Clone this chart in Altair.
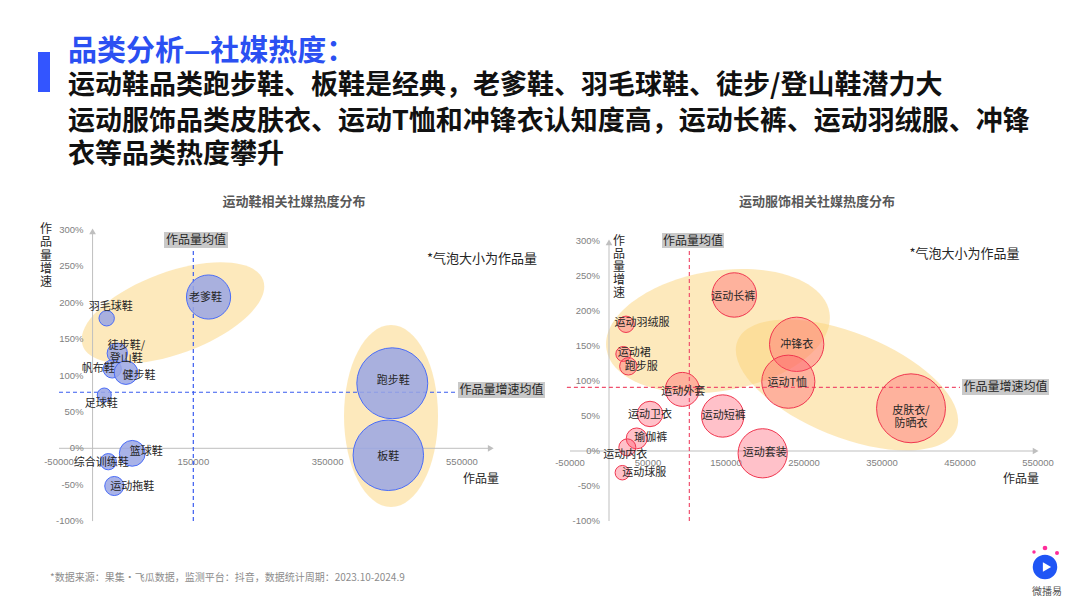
import altair as alt
import pandas as pd

OFF = 8  # page margin of the html body

# ---------------- 运动鞋 (left panel) ----------------
shoe_names = ["老爹鞋", "羽毛球鞋", "徒步鞋/登山鞋", "帆布鞋", "健步鞋", "足球鞋",
              "跑步鞋", "板鞋", "篮球鞋", "综合训练鞋", "运动拖鞋"]
shoe_labels = ["老爹鞋", "羽毛球鞋", "徒步鞋/\n登山鞋", "帆布鞋", "健步鞋", "足球鞋",
               "跑步鞋", "板鞋", "篮球鞋", "综合训练鞋", "运动拖鞋"]
shoe_volume = [172700, 21000, 36800, 29300, 49700, 17400, 446300, 440400, 59100, 23400, 32300]
shoe_growth = [207.8, 178.6, 130.5, 109.0, 104.0, 73.2, 89.3, -9.6, -6.9, -18.4, -51.8]
shoe_mean_volume = 150000
shoe_mean_growth = 77
shoe_xticks = [-50000, 150000, 350000, 550000]

# ---------------- 运动服饰 (right panel) ----------------
app_names = ["运动长裤", "运动羽绒服", "运动裙", "跑步服", "冲锋衣", "运动T恤", "运动外套",
             "运动卫衣", "运动短裤", "瑜伽裤", "运动内衣", "运动套装", "运动球服", "皮肤衣/防晒衣"]
app_labels = ["运动长裤", "运动羽绒服", "运动裙", "跑步服", "冲锋衣", "运动T恤", "运动外套",
              "运动卫衣", "运动短裤", "瑜伽裤", "运动内衣", "运动套装", "运动球服", "皮肤衣/\n防晒衣"]
app_volume = [160600, 21800, 18400, 24800, 240600, 229900, 94000, 52600, 145800, 35500,
              23500, 197000, 17100, 387200]
app_growth = [222.9, 181.0, 138.6, 121.0, 152.4, 99.0, 88.0, 52.9, 50.0, 18.0, 5.2, -3.3, -31.0, 61.0]
app_mean_volume = 103000
app_mean_growth = 91
app_xticks = [-50000, 50000, 150000, 250000, 350000, 450000, 550000]

y_ticks = [-100, -50, 0, 50, 100, 150, 200, 250, 300]

CJK = "Noto Sans CJK SC"
NUM = "Liberation Sans"
AX = "#bfbfbf"
TICK = "#7f7f7f"
LAB = "#262626"


def ellipse_path(k):
    c = 0.5523
    return (f"M-1,0C-1,{-c*k:.4f},{-c:.4f},{-k:.4f},0,{-k:.4f}"
            f"C{c:.4f},{-k:.4f},1,{-c*k:.4f},1,0"
            f"C1,{c*k:.4f},{c:.4f},{k:.4f},0,{k:.4f}"
            f"C{-c:.4f},{k:.4f},-1,{c*k:.4f},-1,0Z")


def panel(names, labels, vol, gro, mean_x, mean_y, xticks, cfg):
    xs = alt.Scale(domain=cfg["xdom"], range=[v - OFF for v in cfg["xpx"]], nice=False, zero=False)
    ys = alt.Scale(domain=[-100, 300], range=[v - OFF for v in cfg["ypx"]], nice=False, zero=False)
    ss = alt.Scale(domain=[0, cfg["sdom"]], range=[0, cfg["srange"]])

    def X(f):
        return alt.X(f + ":Q", scale=xs, axis=None)

    def Y(f):
        return alt.Y(f + ":Q", scale=ys, axis=None)

    layers = []
    # highlight ellipses
    for (cx, cy, a, b, ang) in cfg["ellipses"]:
        layers.append(
            alt.Chart(pd.DataFrame({"x": [cx], "y": [cy]})).mark_point(
                shape=ellipse_path(b / a), filled=True, color="#fbd47a", opacity=0.5,
                size=(2 * a) ** 2, angle=ang, strokeWidth=0
            ).encode(x=X("x"), y=Y("y"))
        )
    # axis lines
    layers.append(
        alt.Chart(pd.DataFrame({"x": [0], "y": [-100], "y2": [300]})).mark_rule(
            color=AX, strokeWidth=1).encode(x=X("x"), y=Y("y"), y2="y2:Q"))
    layers.append(
        alt.Chart(pd.DataFrame({"x": [cfg["xdom"][0]], "x2": [cfg["xend"]], "y": [0]})).mark_rule(
            color=AX, strokeWidth=1).encode(x=X("x"), x2="x2:Q", y=Y("y")))
    layers.append(
        alt.Chart(pd.DataFrame({"x": [0], "y": [298]})).mark_point(
            shape="triangle-up", filled=True, color=AX, size=45, opacity=1).encode(x=X("x"), y=Y("y")))
    layers.append(
        alt.Chart(pd.DataFrame({"x": [cfg["xend"]], "y": [0]})).mark_point(
            shape="triangle-right", filled=True, color=AX, size=45, opacity=1).encode(x=X("x"), y=Y("y")))
    # tick labels
    xt = pd.DataFrame({"v": xticks, "t": [str(v) for v in xticks], "z": [0] * len(xticks)})
    layers.append(
        alt.Chart(xt).mark_text(fontSize=9.5, color=TICK, dy=cfg["xlab_dy"], font=NUM).encode(
            x=X("v"), y=Y("z"), text="t:N"))
    yt = pd.DataFrame({"v": y_ticks, "t": [f"{v}%" for v in y_ticks], "z": [0] * len(y_ticks)})
    layers.append(
        alt.Chart(yt).mark_text(fontSize=9.5, color=TICK, align="right", dx=-9, font=NUM).encode(
            x=X("z"), y=Y("v"), text="t:N"))
    # mean lines
    layers.append(
        alt.Chart(pd.DataFrame({"x": [mean_x], "y": [-100], "y2": [cfg["vtop"]]})).mark_rule(
            color=cfg["dash"], strokeDash=[4, 3], strokeWidth=1.2).encode(x=X("x"), y=Y("y"), y2="y2:Q"))
    layers.append(
        alt.Chart(pd.DataFrame({"x": [cfg["hstart"]], "x2": [cfg["hend"]], "y": [mean_y]})).mark_rule(
            color=cfg["dash"], strokeDash=[4, 3], strokeWidth=1.2).encode(x=X("x"), x2="x2:Q", y=Y("y")))
    # bubbles
    df = pd.DataFrame({"name": names, "label": labels, "volume": vol, "growth": gro})
    layers.append(
        alt.Chart(df).mark_circle(
            fill=cfg["fill"], fillOpacity=cfg["fop"], stroke=cfg["stroke"], strokeWidth=1,
            strokeOpacity=1).encode(
            x=X("volume"), y=Y("growth"), size=alt.Size("volume:Q", scale=ss, legend=None)))
    # bubble labels
    for n, (dx, dy) in cfg["offsets"].items():
        layers.append(
            alt.Chart(df).transform_filter(alt.datum.name == n).mark_text(
                dx=dx, dy=dy, fontSize=11, color=LAB, lineBreak="\n", lineHeight=13, font=CJK
            ).encode(x=X("volume"), y=Y("growth"), text="label:N"))
    return alt.layer(*layers)


left_cfg = dict(
    xdom=[-50000, 600000], xpx=[59, 495.5], ypx=[521.1, 229.9],
    sdom=447000, srange=5041, xend=593000, xlab_dy=14,
    vtop=275, hstart=-50000, hend=542000, dash="#3a5cf0",
    fill="#9aa6e4", fop=0.85, stroke="#4a6cf7",
    ellipses=[(119700, 185.9, 96, 41, 340), (444400, 44.4, 91, 47, 90)],
    offsets={"老爹鞋": (-3, 1), "羽毛球鞋": (4, -11), "徒步鞋/登山鞋": (9, -7), "帆布鞋": (-14, 0),
             "健步鞋": (13, 3), "足球鞋": (-3, 9), "跑步鞋": (1, -2), "板鞋": (0, 2),
             "篮球鞋": (14, -1), "综合训练鞋": (-7, 1), "运动拖鞋": (18, 1)},
)
right_cfg = dict(
    xdom=[-50000, 550000], xpx=[570, 1038], ypx=[521, 241],
    sdom=388000, srange=4761, xend=547000, xlab_dy=12,
    vtop=290, hstart=-54000, hend=450000, dash="#f0506e",
    fill="#ff4d64", fop=0.35, stroke="#f0364f",
    ellipses=[(139700, 171.4, 113, 60, 350.6), (305100, 94.3, 118, 52, 22)],
    offsets={"运动长裤": (-1, 2), "运动羽绒服": (16, -1), "运动裙": (11, -1), "跑步服": (13, 1),
             "冲锋衣": (0, 1), "运动T恤": (-1, 1), "运动外套": (1, 3), "运动卫衣": (0, 1),
             "运动短裤": (1, 0), "瑜伽裤": (14, 0), "运动内衣": (-2, 8), "运动套装": (2, 0),
             "运动球服": (22, 0), "皮肤衣/防晒衣": (0, 3)},
)

left = panel(shoe_names, shoe_labels, shoe_volume, shoe_growth,
             shoe_mean_volume, shoe_mean_growth, shoe_xticks, left_cfg)
right = panel(app_names, app_labels, app_volume, app_growth,
              app_mean_volume, app_mean_growth, app_xticks, right_cfg)


def note(text, x, y, size=12, color=LAB, weight="normal", align="center", font=CJK, lh=None):
    kw = dict(align=align, baseline="middle", fontSize=size, color=color, fontWeight=weight,
              font=font, lineBreak="\n")
    if lh:
        kw["lineHeight"] = lh
    return alt.Chart(alt.Data(values=[{"t": text}])).mark_text(**kw).encode(
        x=alt.value(x - OFF), y=alt.value(y - OFF), text="t:N")


def box(x1, y1, x2, y2, color):
    return alt.Chart(alt.Data(values=[{"t": 1}])).mark_rect(color=color).encode(
        x=alt.value(x1 - OFF), x2=alt.value(x2 - OFF), y=alt.value(y1 - OFF), y2=alt.value(y2 - OFF))


def dot(x, y, size, color, shape="circle"):
    return alt.Chart(alt.Data(values=[{"t": 1}])).mark_point(
        shape=shape, filled=True, color=color, size=size, opacity=1).encode(
        x=alt.value(x - OFF), y=alt.value(y - OFF))


annos = [
    box(38, 52, 50, 92, "#3355ff"),
    note("品类分析—社媒热度：", 68, 52, size=29, color="#2b50f2", weight="bold", align="left"),
    note("运动鞋品类跑步鞋、板鞋是经典，老爹鞋、羽毛球鞋、徒步/登山鞋潜力大", 68, 86, size=27,
         color="#111111", weight="bold", align="left"),
    note("运动服饰品类皮肤衣、运动T恤和冲锋衣认知度高，运动长裤、运动羽绒服、冲锋", 68, 122, size=27,
         color="#111111", weight="bold", align="left"),
    note("衣等品类热度攀升", 68, 155, size=27, color="#111111", weight="bold", align="left"),
    note("运动鞋相关社媒热度分布", 294, 202, size=13, color="#595959", weight="bold"),
    note("运动服饰相关社媒热度分布", 817, 202, size=13, color="#595959", weight="bold"),
    note("*气泡大小为作品量", 482, 259, size=13),
    note("*气泡大小为作品量", 964.5, 254, size=13),
    note("作\n品\n量\n增\n速", 46, 229, size=12, lh=13.3),
    note("作\n品\n量\n增\n速", 619, 241, size=12, lh=13.0),
    note("作品量", 481, 479, size=12),
    note("作品量", 1021, 479, size=12),
    box(164, 232, 228, 248, "#c9c9c9"),
    note("作品量均值", 196, 240, size=12),
    box(662, 233, 724, 248, "#c9c9c9"),
    note("作品量均值", 693, 240.5, size=12),
    box(458, 382, 545, 398, "#c9c9c9"),
    note("作品量增速均值", 501.5, 390, size=12),
    box(962, 379, 1049, 395, "#c9c9c9"),
    note("作品量增速均值", 1005.5, 387, size=12),
    note("*数据来源：果集·飞瓜数据，监测平台：抖音，数据统计周期：2023.10-2024.9", 50, 578,
         size=10, color="#8c8c8c", align="left"),
    dot(1045, 567, 600, "#1f55f5"),
    dot(1047, 567, 90, "#ffffff", shape="triangle-right"),
    dot(1045, 548, 22, "#ff2d9a"),
    dot(1057, 553, 16, "#ff2d9a"),
    dot(1034, 552, 12, "#ff2d9a"),
    note("微播易", 1047, 592, size=10, color="#555555"),
]

chart = alt.layer(*annos, left, right).resolve_scale(
    x="independent", y="independent", size="independent"
).properties(
    width=1064, height=590, padding=0, background="white",
    autosize=alt.AutoSizeParams(type="none"),
).configure_view(stroke=None)

chart.save("out.html", embed_options={"renderer": "svg", "actions": False})
